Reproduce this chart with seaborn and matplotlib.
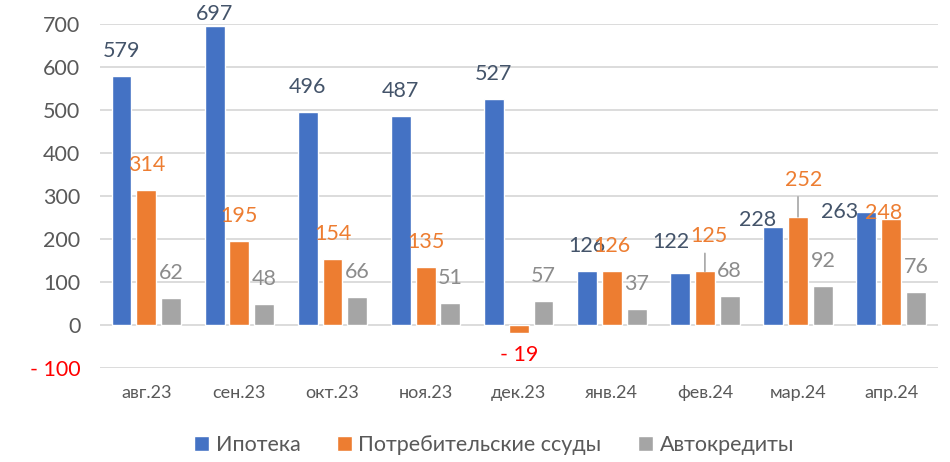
import pandas as pd
import matplotlib.pyplot as plt
import seaborn as sns
from matplotlib.ticker import FuncFormatter, MultipleLocator
from matplotlib.patches import Patch

# Data
months = ["авг.23", "сен.23", "окт.23", "ноя.23", "дек.23", "янв.24", "фев.24", "мар.24", "апр.24"]
series_names = ["Ипотека", "Потребительские ссуды", "Автокредиты"]
mortgage = [579, 697, 496, 487, 527, 126, 122, 228, 263]
consumer = [314, 195, 154, 135, -19, 126, 125, 252, 248]
auto = [62, 48, 66, 51, 57, 37, 68, 92, 76]

bar_colors = ["#4472C4", "#ED7D31", "#A5A5A5"]
label_colors = ["#44546A", "#ED7D31", "#8C8C8C"]

# Long-form table for seaborn
df = pd.DataFrame({
    "month": months * 3,
    "series": [s for s in series_names for _ in months],
    "value": mortgage + consumer + auto,
})

sns.set_style("white")
plt.rcParams["font.family"] = ["Lato", "DejaVu Sans"]

fig = plt.figure(figsize=(9.5, 4.62), dpi=100)
ax = fig.add_axes([0.105, 0.2035, 0.882, 0.7435])

sns.barplot(data=df, x="month", y="value", hue="series", order=months,
            hue_order=series_names, palette=bar_colors, width=0.8, gap=0.2,
            saturation=1, ax=ax)
ax.get_legend().remove()

ax.set_ylim(-100, 700)
ax.set_xlim(-0.5, len(months) - 0.5)
ax.yaxis.set_major_locator(MultipleLocator(100))
ax.yaxis.set_major_formatter(FuncFormatter(lambda v, p: f"- {abs(int(v))}" if v < 0 else f"{int(v)}"))
ax.grid(axis="y", color="#D9D9D9", linewidth=1.3)
ax.set_axisbelow(True)
for s in ax.spines.values():
    s.set_visible(False)
ax.set_xlabel("")
ax.set_ylabel("")
ax.tick_params(axis="y", labelsize=15.5, colors="#595959", length=0, pad=14)
ax.tick_params(axis="x", labelsize=13, colors="#595959", length=0, pad=12)
for t in ax.get_yticklabels():
    if t.get_text().startswith("-"):
        t.set_color("red")

# Manual label nudges (pixels), as in the source chart
px = 0.72
nudges = {
    (0, 1): (0, 12),
    (0, 6): (-9, 31),
    (1, 6): (4, 35),
    (0, 7): (-16, 7),
    (1, 7): (6, 37),
    (0, 8): (-27, 0),
    (1, 8): (-7, 6),
}
leaders = {(1, 6), (1, 7)}

for si, cont in enumerate(ax.containers):
    for mi, bar in enumerate(cont):
        val = bar.get_height()
        xc = bar.get_x() + bar.get_width() / 2
        dx, dy = nudges.get((si, mi), (0, 25))
        color = label_colors[si]
        txt = f"{int(val)}"
        if val < 0:
            dy = -22
            color = "red"
            txt = f"- {abs(int(val))}"
        if (si, mi) in leaders:
            # vertical leader line from bar top towards the moved label
            ax.annotate("", xy=(xc, val), xytext=(0, (dy - 17) * px),
                        textcoords="offset points", annotation_clip=False,
                        arrowprops=dict(arrowstyle="-", color="#A6A6A6", lw=1.2,
                                        shrinkA=0, shrinkB=0))
        ax.annotate(txt, xy=(xc, val), xytext=(dx * px, dy * px),
                    textcoords="offset points", ha="center", va="center",
                    fontsize=15.5, color=color, annotation_clip=False)

handles = [Patch(facecolor=c, label=n) for c, n in zip(bar_colors, series_names)]
fig.legend(handles=handles, loc="center", bbox_to_anchor=(0.52, 0.037), ncol=3,
           frameon=False, fontsize=15.5, handlelength=0.7, handleheight=0.7,
           handletextpad=0.3, columnspacing=1.7, labelcolor="#595959")

fig.savefig("out.png", dpi=100)
